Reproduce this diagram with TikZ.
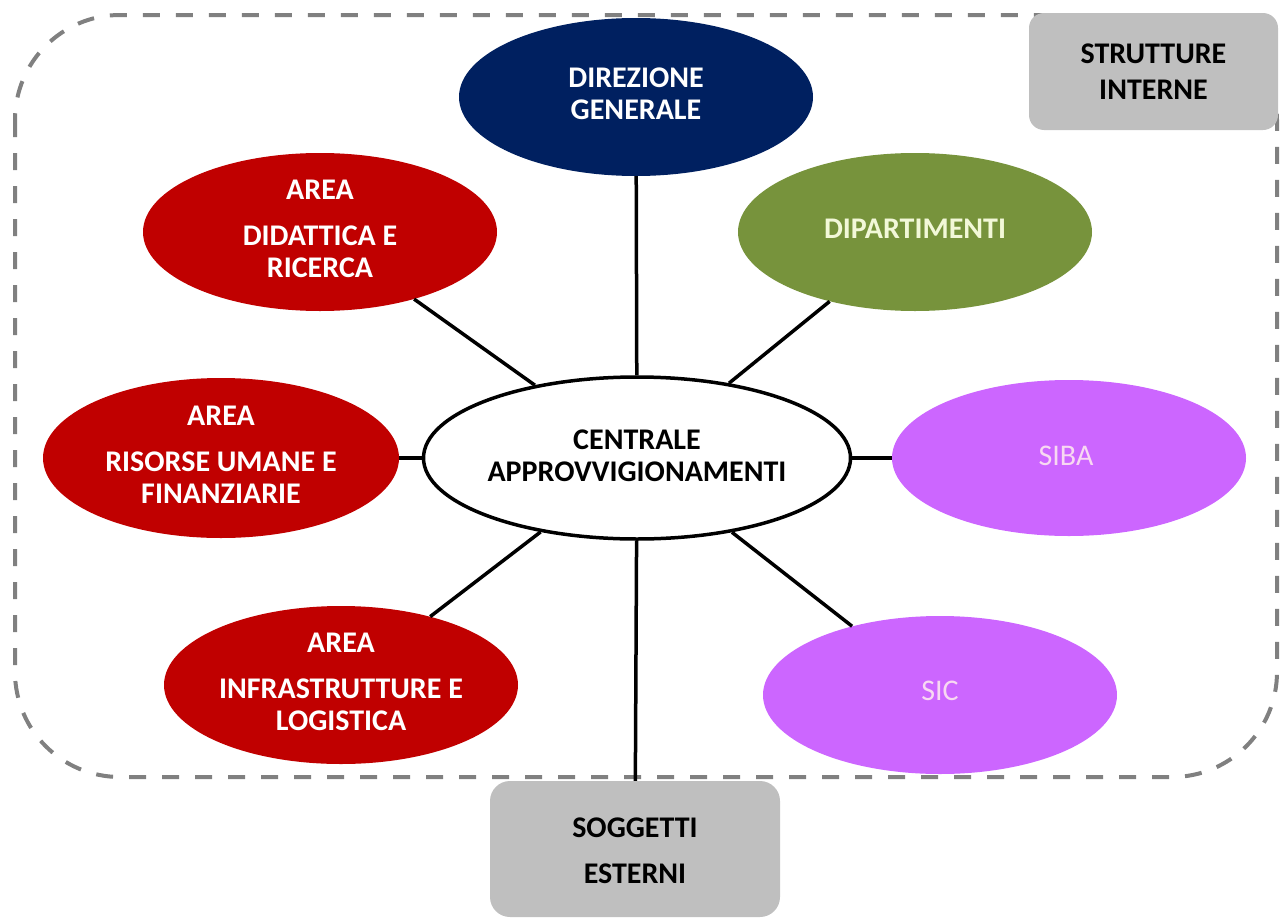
\documentclass[tikz,border=0pt]{standalone}
\usepackage{fontspec}
\setmainfont{Carlito}
\usetikzlibrary{shapes.geometric}
\definecolor{cNavy}{HTML}{002060}
\definecolor{cOlive}{HTML}{77933C}
\definecolor{cRed}{HTML}{C00000}
\definecolor{cPurple}{HTML}{CC66FF}
\definecolor{cGray}{HTML}{BFBFBF}
\definecolor{cDash}{HTML}{808080}
\definecolor{cOliveTxt}{HTML}{F2F8D8}
\definecolor{cPinkTxt}{HTML}{F8D8F2}
\begin{document}
\begin{tikzpicture}[x=1pt,y=-1pt,
  ell/.style={ellipse, inner sep=0pt, minimum width=354pt, minimum height=158pt},
  lbl/.style={align=center, inner sep=0pt, font=\fontsize{30}{32}\selectfont\bfseries},
  lblreg/.style={align=center, inner sep=0pt, font=\fontsize{30}{32}\selectfont},
  link/.style={line width=3.5pt, black},
  graybox/.style={fill=cGray, inner sep=0pt}]
\useasboundingbox (0,0) rectangle (1280,921);
% dashed frame
\draw[cDash, line width=4pt, dash pattern=on 17pt off 16pt, rounded corners=105pt] (15,15) rectangle (1277,777);
% ellipses
\node[ell, fill=cNavy] (dg) at (636,97) {};
\node[lbl, text=white] (dgT) at (636,94) {DIREZIONE\\GENERALE};
\node[ell, fill=cOlive] (dip) at (915,232) {};
\node[lbl, text=cOliveTxt] (dipT) at (915,229) {DIPARTIMENTI};
\node[ell, fill=cRed] (did) at (320,232) {};
\node[lbl, text=white] (didT) at (320,229) {AREA\\[14pt]DIDATTICA E\\RICERCA};
\node[ell, fill=cRed, minimum width=356pt, minimum height=160pt] (ris) at (221,458) {};
\node[lbl, text=white] (risT) at (221,455) {AREA\\[14pt]RISORSE UMANE E\\FINANZIARIE};
\node[ell, fill=cRed] (inf) at (341,685) {};
\node[lbl, text=white] (infT) at (341,682) {AREA\\[14pt]INFRASTRUTTURE E\\LOGISTICA};
\node[ell, fill=cPurple, minimum height=156pt] (siba) at (1069,458) {};
\node[lblreg, text=cPinkTxt] (sibaT) at (1066,456) {SIBA};
\node[ell, fill=cPurple] (sic) at (940,695) {};
\node[lblreg, text=cPinkTxt] (sicT) at (940,691) {SIC};
\node[ellipse, inner sep=0pt, minimum width=427pt, minimum height=162pt, fill=white, draw=black, line width=3.5pt] (ca) at (637,458) {};
\node[lbl, text=black] (caT) at (637,456) {CENTRALE\\APPROVVIGIONAMENTI};
% gray boxes
\node[graybox, rounded corners=15pt, minimum width=249pt, minimum height=117pt] (si) at (1153.5,71.5) {};
\node[lbl, text=black, font=\fontsize{30}{36}\selectfont\bfseries] (siT) at (1153.5,72) {STRUTTURE\\INTERNE};
\node[graybox, rounded corners=20pt, minimum width=290pt, minimum height=136pt] (sog) at (635,849) {};
\node[lbl, text=black] (sogT) at (635,851) {SOGGETTI\\[14pt]ESTERNI};
% connectors
\draw[link] (dg) -- (ca);
\draw[link] (did) -- (ca);
\draw[link] (dip) -- (ca);
\draw[link] (ris) -- (ca);
\draw[link] (siba) -- (ca);
\draw[link] (inf) -- (ca);
\draw[link] (sic) -- (ca);
\draw[link] (ca) -- (sog);
\end{tikzpicture}
\end{document}
